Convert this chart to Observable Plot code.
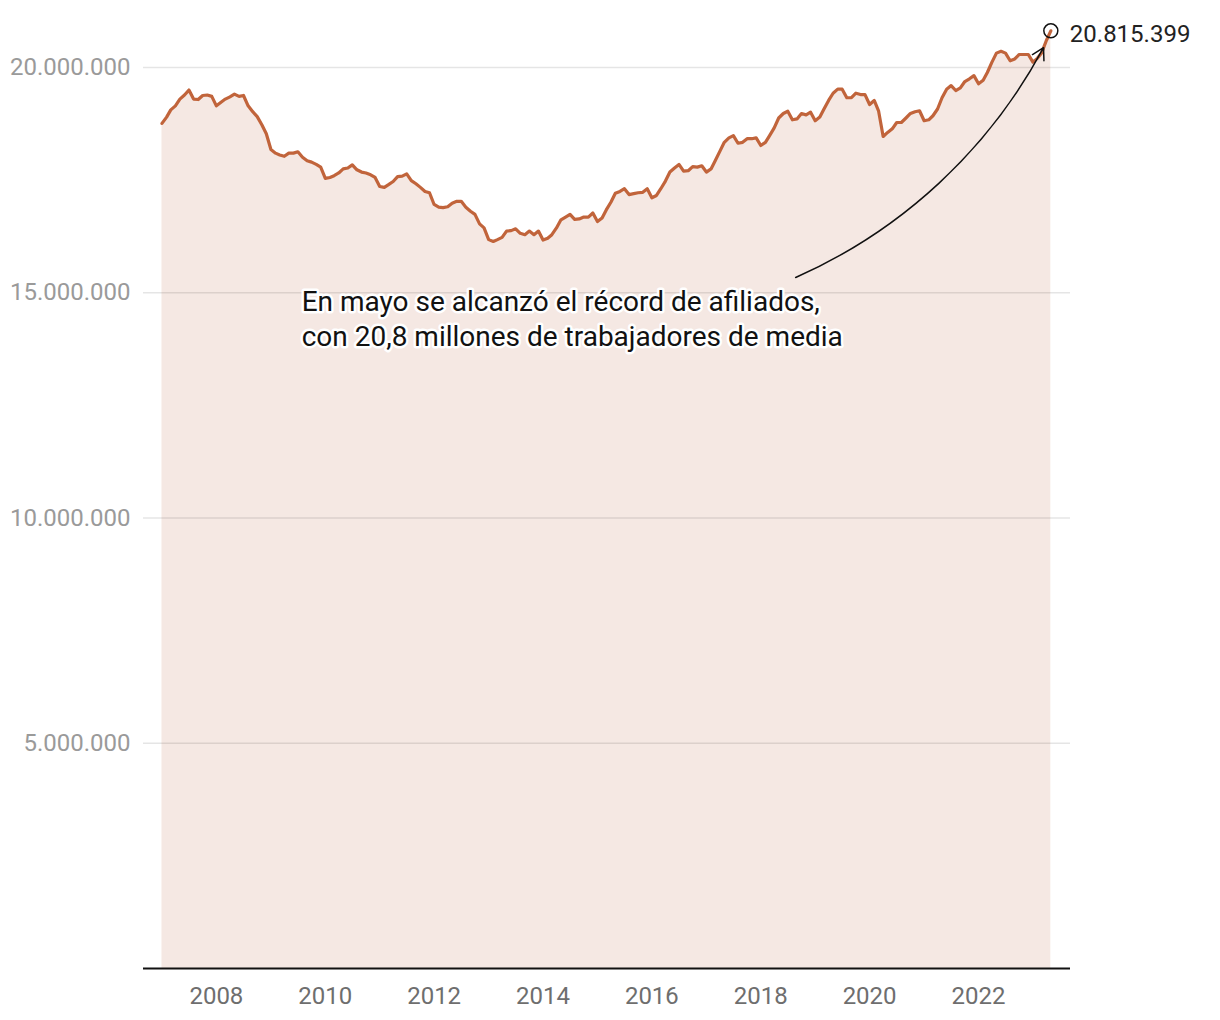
<!DOCTYPE html>
<html><head><meta charset="utf-8">
<script src="https://cdn.jsdelivr.net/npm/d3@7"></script>
<script src="https://cdn.jsdelivr.net/npm/@observablehq/plot@0.6"></script>
<style>body{margin:0;background:#fff;font-family:Roboto,sans-serif}</style>
</head><body><div id="chart"></div>
<script>
// Afiliados medios (millones), enero 2007 - mayo 2023
const y2007 = [18.76, 18.90, 19.06, 19.15, 19.30, 19.39, 19.50, 19.30, 19.29, 19.38, 19.39, 19.36];
const y2008 = [19.15, 19.23, 19.30, 19.35, 19.41, 19.36, 19.38, 19.15, 19.02, 18.91, 18.73, 18.53];
const y2009 = [18.18, 18.10, 18.06, 18.03, 18.10, 18.10, 18.13, 18.01, 17.93, 17.90, 17.85, 17.79];
const y2010 = [17.54, 17.56, 17.60, 17.66, 17.75, 17.77, 17.84, 17.73, 17.68, 17.66, 17.62, 17.56];
const y2011 = [17.36, 17.34, 17.40, 17.47, 17.58, 17.59, 17.64, 17.49, 17.42, 17.34, 17.25, 17.22];
const y2012 = [16.96, 16.90, 16.89, 16.91, 16.99, 17.03, 17.03, 16.90, 16.81, 16.74, 16.53, 16.44];
const y2013 = [16.18, 16.14, 16.18, 16.23, 16.37, 16.38, 16.42, 16.32, 16.29, 16.37, 16.29, 16.37];
const y2014 = [16.17, 16.21, 16.29, 16.44, 16.62, 16.68, 16.74, 16.63, 16.64, 16.68, 16.68, 16.77];
const y2015 = [16.58, 16.66, 16.84, 17.01, 17.21, 17.25, 17.31, 17.18, 17.20, 17.22, 17.23, 17.31];
const y2016 = [17.11, 17.16, 17.31, 17.48, 17.68, 17.77, 17.85, 17.70, 17.71, 17.80, 17.79, 17.82];
const y2017 = [17.68, 17.75, 17.93, 18.14, 18.34, 18.44, 18.49, 18.32, 18.34, 18.42, 18.42, 18.44];
const y2018 = [18.27, 18.34, 18.49, 18.66, 18.88, 18.98, 19.03, 18.84, 18.86, 18.98, 18.95, 19.01];
const y2019 = [18.82, 18.90, 19.08, 19.27, 19.43, 19.52, 19.52, 19.33, 19.33, 19.43, 19.40, 19.40];
const y2020 = [19.18, 19.27, 19.04, 18.47, 18.56, 18.64, 18.78, 18.78, 18.88, 18.98, 19.02, 19.04];
const y2021 = [18.82, 18.84, 18.93, 19.08, 19.33, 19.52, 19.60, 19.49, 19.55, 19.69, 19.75, 19.82];
const y2022 = [19.64, 19.72, 19.89, 20.12, 20.32, 20.36, 20.32, 20.15, 20.19, 20.29, 20.29, 20.29];
const y2023 = [20.12, 20.21, 20.33, 20.60, 20.815399];

const startYear = 2007;
const yTicks = [5e6, 10e6, 15e6, 20e6];
const xTickYears = [2008, 2010, 2012, 2014, 2016, 2018, 2020, 2022];
const annotationLines = ["En mayo se alcanzó el récord de afiliados,", "con 20,8 millones de trabajadores de media"];
const annotationAt = [{date: "2009-07-26", value: 14.46e6}];
const arrowPath = [{from: "2018-08-23", fromValue: 15.34e6, to: "2023-03-13", toValue: 20.44e6}];
const xDomain = ["2006-08-30", "2023-09-10"];

const values = [...y2007, ...y2008, ...y2009, ...y2010, ...y2011, ...y2012, ...y2013, ...y2014,
  ...y2015, ...y2016, ...y2017, ...y2018, ...y2019, ...y2020, ...y2021, ...y2022, ...y2023];
const data = values.map((v, i) => ({date: new Date(Date.UTC(startYear, i, 1)), value: Math.round(v * 1e6)}));
const last = [data[data.length - 1]];
const es = d3.formatLocale({decimal: ",", thousands: ".", grouping: [3], currency: ["", " €"]});
const fmt = es.format(",d");
const xTicks = xTickYears.map(y => new Date(Date.UTC(y, 0, 1)));
const annot = annotationAt.map(d => ({date: new Date(d.date), value: d.value, text: annotationLines.join("\n")}));
const arrows = arrowPath.map(d => ({x1: new Date(d.from), y1: d.fromValue, x2: new Date(d.to), y2: d.toValue}));

const chart = Plot.plot({
  width: 1220, height: 1020,
  marginLeft: 143, marginRight: 150, marginTop: 22, marginBottom: 52,
  style: {fontFamily: "Roboto, sans-serif", fontSize: "24px", background: "#fff", overflow: "visible"},
  x: {type: "utc", domain: xDomain.map(d => new Date(d))},
  y: {domain: [0, 21e6]},
  marks: [
    Plot.areaY(data, {x: "date", y: "value", fill: "#f5e8e3"}),
    Plot.gridY(yTicks, {stroke: "#000", strokeOpacity: 0.1, strokeWidth: 1.5}),
    Plot.lineY(data, {x: "date", y: "value", stroke: "#c1643b", strokeWidth: 3.2}),
    Plot.ruleY([0], {stroke: "#111", strokeWidth: 2}),
    Plot.axisX({ticks: xTicks, tickFormat: "%Y", tickSize: 0, tickPadding: 18, color: "#6e6e6e", label: null, fontSize: 24}),
    Plot.axisY({ticks: yTicks, tickFormat: fmt, tickSize: 0, tickPadding: 13, color: "#9a9a9a", label: null, fontSize: 24}),
    Plot.arrow(arrows, {x1: "x1", y1: "y1", x2: "x2", y2: "y2", bend: -19, stroke: "#111", strokeWidth: 1.5, headLength: 13}),
    Plot.text(annot, {x: "date", y: "value", text: "text", textAnchor: "start", lineAnchor: "middle", lineHeight: 1.25,
      fontSize: 28, fill: "#111", stroke: "#fff", strokeWidth: 5}),
    Plot.dot(last, {x: "date", y: "value", r: 7, stroke: "#111", strokeWidth: 1.5, fill: "none"}),
    Plot.text(last, {x: "date", y: "value", text: d => fmt(d.value), textAnchor: "start", dx: 19, dy: 3, fontSize: 24, fill: "#222"})
  ]
});
document.getElementById("chart").appendChild(chart);
</script>
</body></html>
